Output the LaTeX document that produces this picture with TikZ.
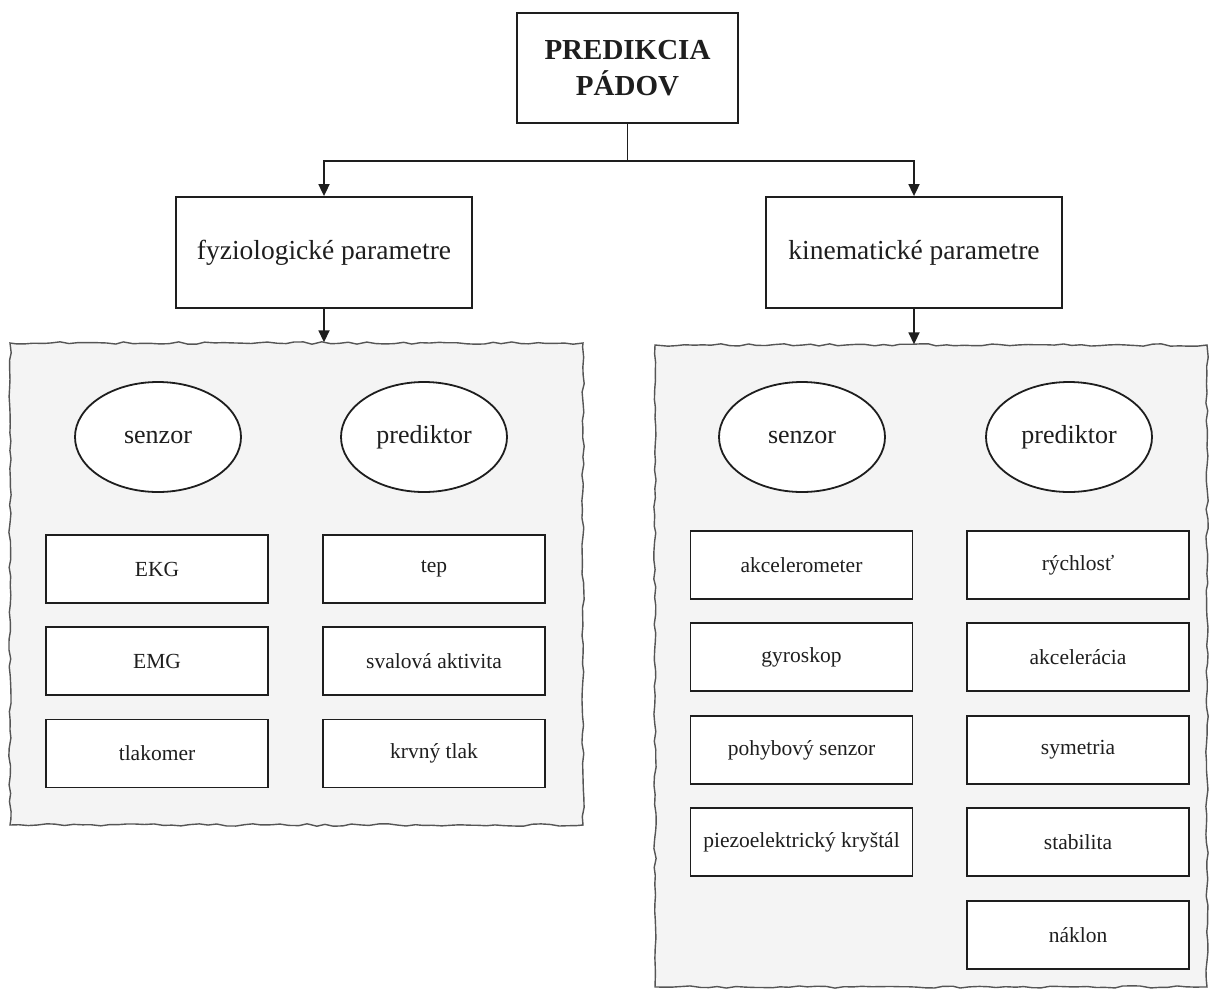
\documentclass[tikz,border=0pt]{standalone}
\usepackage{fontspec}
\setmainfont{Liberation Serif}
\usetikzlibrary{arrows.meta,decorations.pathmorphing,shapes.geometric}
\definecolor{edge}{HTML}{1E1E1E}
\definecolor{panelfill}{HTML}{F4F4F4}
\definecolor{paneledge}{HTML}{555555}
\begin{document}
\begin{tikzpicture}[x=1pt,y=-1pt,
  every node/.style={text=edge},
  box/.style={draw=edge,line width=1.8pt,fill=white,minimum width=222pt,minimum height=68pt,inner sep=0pt,font=\fontsize{21.5}{24}\selectfont},
  parbox/.style={draw=edge,line width=1.8pt,fill=white,minimum width=296pt,minimum height=111pt,inner sep=0pt,font=\fontsize{27.5}{32}\selectfont},
  topbox/.style={draw=edge,line width=1.8pt,fill=white,minimum width=221pt,minimum height=110pt,inner sep=0pt,align=center,font=\fontsize{29}{36}\selectfont\bfseries},
  oval/.style={ellipse,draw=edge,line width=1.8pt,fill=white,minimum width=166pt,minimum height=110pt,inner sep=0pt,font=\fontsize{26}{30}\selectfont},
  panel/.style={draw=paneledge,line width=1.4pt,fill=panelfill,inner sep=0pt,decorate,decoration={random steps,segment length=9pt,amplitude=1.2pt}},
  conn/.style={draw=edge,line width=1.8pt},
  arr/.style={conn,-{Triangle[width=11pt,length=12pt]}}
]
\useasboundingbox (0,0) rectangle (1217,988);
\pgfmathsetseed{7}

\node[topbox] (top) at (627.5,68) {PREDIKCIA\\PÁDOV};
\node[parbox] (fyz) at (324,252.5) {fyziologické parametre};
\node[parbox] (kin) at (914,252.5) {kinematické parametre};

\node[panel,minimum width=573pt,minimum height=482pt] (lp) at (296.5,584) {};
\node[panel,minimum width=552pt,minimum height=642pt] (rp) at (931,666) {};

\coordinate (j) at (627.5,161);
\draw[conn] (top.south) -- (j);
\draw[arr] (j) -| (fyz.north);
\draw[arr] (j) -| (kin.north);
\draw[arr] (fyz.south) -- (fyz.south |- lp.north);
\draw[arr] (kin.south) -- (kin.south |- rp.north);

% left panel
\node[oval] (ls) at (158,437) {senzor};
\node[oval] (lpred) at (424,437) {prediktor};
\node[box] (ekg) at (157,569) {EKG};
\node[box] (emg) at (157,661) {EMG};
\node[box] (tlak) at (157,753.5) {tlakomer};
\node[box] (tep) at (434,569) {tep};
\node[box] (sval) at (434,661) {svalová aktivita};
\node[box] (krv) at (434,753.5) {krvný tlak};

% right panel
\node[oval] (rs) at (802,437) {senzor};
\node[oval] (rpred) at (1069,437) {prediktor};
\node[box] (akc) at (801.5,565) {akcelerometer};
\node[box] (gyr) at (801.5,657) {gyroskop};
\node[box] (poh) at (801.5,750) {pohybový senzor};
\node[box] (pie) at (801.5,842) {piezoelektrický kryštál};
\node[box] (ryc) at (1078,565) {rýchlosť};
\node[box] (akl) at (1078,657) {akcelerácia};
\node[box] (sym) at (1078,750) {symetria};
\node[box] (sta) at (1078,842) {stabilita};
\node[box] (nak) at (1078,935) {náklon};
\end{tikzpicture}
\end{document}
